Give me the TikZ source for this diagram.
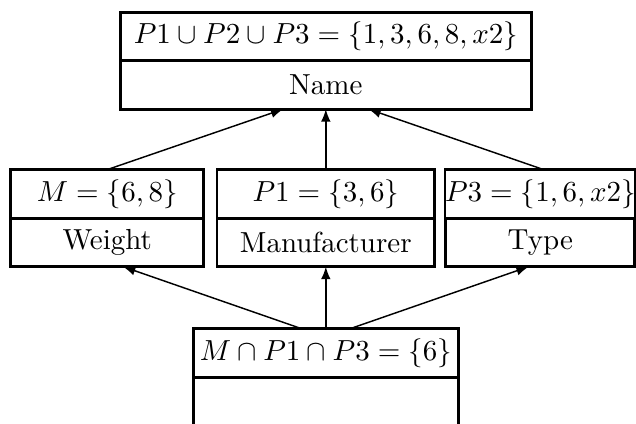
\documentclass[tikz,border=0pt]{standalone}
\usepackage{amsmath}
\usepackage{amssymb}
\usepackage{tikz}
\usetikzlibrary{positioning}
\tikzset{cell/.style={draw,line width=1pt,minimum height=0.588cm,inner sep=0pt,outer sep=0pt},
 link/.style={-latex,line width=0.5pt},
 }

\begin{document}
\begin{tikzpicture}
        \useasboundingbox (0,0) rectangle (7.71,-5.13);
        % top box
        \node[cell,minimum width=4.98cm] (union) at (3.95,-0.44) {$P1 \cup P2 \cup P3 = \{1,3,6,8,x2\}$};
        \node[cell,minimum width=4.98cm,below=0pt of union] (unionattr) {Name};
        % middle row
        \node[cell,minimum width=2.34cm] (weight) at (1.30,-2.35) {$M = \{6,8\}$};
        \node[cell,minimum width=2.34cm,below=0pt of weight] (weightattr) {Weight};
        \node[cell,minimum width=2.64cm] (manuf) at (3.95,-2.35) {$P1 = \{3,6\}$};
        \node[cell,minimum width=2.64cm,below=0pt of manuf] (manufattr) {Manufacturer};
        \node[cell,minimum width=2.29cm] (type) at (6.55,-2.35) {$P3 = \{1,6,x2\}$};
        \node[cell,minimum width=2.29cm,below=0pt of type] (typeattr) {Type};
        % bottom box
        \node[cell,minimum width=3.21cm] (inter) at (3.95,-4.28) {$M \cap P1 \cap P3 = \{6\}$};
        \node[cell,minimum width=3.21cm,below=0pt of inter] (interattr) {};
        % arrows
        \draw[link] (weight.north) -- ([xshift=-0.515cm]unionattr.south);
        \draw[link] (manuf.north) -- (unionattr.south);
        \draw[link] ([xshift=0.04cm]type.north) -- ([xshift=0.515cm]unionattr.south);
        \draw[link] ([xshift=-0.29cm]inter.north) -- ([xshift=0.19cm]weightattr.south);
        \draw[link] (inter.north) -- (manufattr.south);
        \draw[link] ([xshift=0.29cm]inter.north) -- ([xshift=-0.14cm]typeattr.south);
    \end{tikzpicture}
\end{document}
